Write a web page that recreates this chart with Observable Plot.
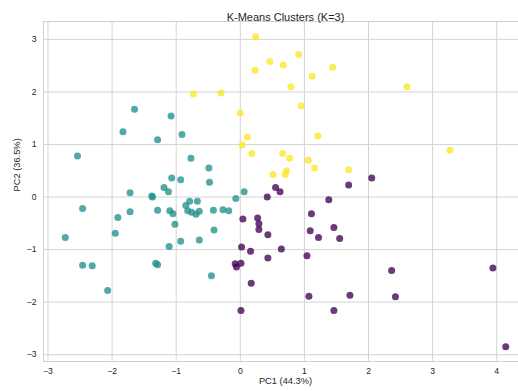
<!DOCTYPE html>
<html>
<head>
<meta charset="utf-8">
<script src="https://cdn.jsdelivr.net/npm/d3@7"></script>
<script src="https://cdn.jsdelivr.net/npm/@observablehq/plot@0.6"></script>
<style>
  html, body { margin: 0; padding: 0; background: #fff; overflow: hidden; width: 518px; height: 391px; }
  #chart { width: 528px; }
  #chart svg { display: block; max-width: none !important; }
</style>
</head>
<body>
<div id="chart"></div>
<script>
const title = "K-Means Clusters (K=3)";
const xLabel = "PC1 (44.3%)";
const yLabel = "PC2 (36.5%)";
const xTicks = [-3, -2, -1, 0, 1, 2, 3, 4];
const yTicks = [-3, -2, -1, 0, 1, 2, 3];
const clusterColors = ["#440154", "#21918c", "#fde725"];

// Cluster 0 (purple)
const pc1Cluster0 = [0.55, 0.62, 0.42, 1.38, 1.11, 0.04, 0.27, 0.29, 0.29, 1.09, 1.46, 1.22, 1.55, 0.43, 0.02, 0.16, 0.64, 0.43, 1.04, 0.01, -0.08, -0.06, 0.17, 1.07, 0.01, 1.46, 1.69, 2.05, 1.71, 2.36, 3.94, 2.42, 4.14];
const pc2Cluster0 = [0.18, 0.10, 0.00, -0.05, -0.32, -0.42, -0.40, -0.51, -0.62, -0.64, -0.58, -0.77, -0.79, -0.72, -0.95, -1.03, -0.99, -1.16, -1.12, -1.26, -1.27, -1.33, -1.64, -1.89, -2.16, -2.16, 0.23, 0.36, -1.87, -1.40, -1.35, -1.90, -2.85];

// Cluster 1 (teal)
const pc1Cluster1 = [-1.65, -1.08, -1.83, -0.91, -1.29, -2.54, -0.77, -0.49, -0.48, -1.07, -0.93, -1.19, -1.12, -1.72, -1.38, -1.37, -2.46, -1.29, -1.72, -1.10, -1.05, -1.91, -1.02, -1.95, -2.73, -1.11, -0.93, -0.64, -2.46, -2.31, -1.32, -1.29, 0.06, -0.07, -0.85, -0.79, -0.67, -0.82, -0.76, -0.69, -0.64, -0.42, -0.27, -0.18, -0.41, -0.45, -2.07];
const pc2Cluster1 = [1.67, 1.54, 1.24, 1.19, 1.09, 0.78, 0.74, 0.55, 0.28, 0.36, 0.33, 0.18, 0.10, 0.08, 0.02, 0.00, -0.22, -0.25, -0.28, -0.26, -0.32, -0.39, -0.52, -0.69, -0.77, -0.94, -0.84, -0.82, -1.30, -1.31, -1.26, -1.29, 0.10, -0.03, -0.16, -0.08, -0.08, -0.26, -0.29, -0.33, -0.27, -0.25, -0.24, -0.26, -0.63, -1.50, -1.78];

// Cluster 2 (yellow)
const pc1Cluster2 = [0.24, 0.91, 0.46, 0.67, 0.23, 1.44, 1.12, 0.79, 0.00, 0.95, 0.11, 0.03, 1.21, 0.18, 0.66, 0.77, 1.06, 1.16, 0.72, 0.70, 0.51, 1.69, -0.73, -0.30, 2.60, 3.27];
const pc2Cluster2 = [3.05, 2.71, 2.58, 2.51, 2.41, 2.47, 2.30, 2.10, 1.60, 1.73, 1.14, 0.99, 1.16, 0.83, 0.83, 0.74, 0.70, 0.55, 0.50, 0.43, 0.43, 0.52, 1.96, 1.98, 2.10, 0.89];

const points = [];
[[pc1Cluster0, pc2Cluster0], [pc1Cluster1, pc2Cluster1], [pc1Cluster2, pc2Cluster2]].forEach(([xs, ys], k) => {
  xs.forEach((x, i) => points.push({pc1: x, pc2: ys[i], cluster: k}));
});

const font = "'Liberation Sans', Arial, Helvetica, sans-serif";
const textColor = "#262626";
const intFormat = d3.format("d");

const chart = Plot.plot({
  width: 528,
  height: 391,
  marginLeft: 43,
  marginRight: 1,
  marginTop: 21,
  marginBottom: 30,
  style: {fontFamily: font, background: "#fff", overflow: "visible", maxWidth: "none"},
  x: {domain: [-3.07, 4.48], ticks: xTicks},
  y: {domain: [-3.13, 3.34], ticks: yTicks},
  marks: [
    Plot.gridX(xTicks, {stroke: "#d4d4d4", strokeOpacity: 1, strokeWidth: 1}),
    Plot.gridY(yTicks, {stroke: "#d4d4d4", strokeOpacity: 1, strokeWidth: 1}),
    Plot.frame({stroke: "#cfcfcf", strokeWidth: 1}),
    Plot.axisX(xTicks, {tickSize: 0, tickPadding: 6, label: null, fontSize: 8.6, fill: textColor, tickFormat: intFormat}),
    Plot.axisY(yTicks, {tickSize: 0, tickPadding: 7, label: null, fontSize: 8.6, fill: textColor, tickFormat: intFormat}),
    Plot.dot(points, {x: "pc1", y: "pc2", fill: d => clusterColors[d.cluster], fillOpacity: 0.78, r: 3.5, stroke: "none"}),
    Plot.text([title], {frameAnchor: "top", dy: -8, fontSize: 11, fill: textColor, fontFamily: font}),
    Plot.text([xLabel], {frameAnchor: "bottom", dy: 22.5, fontSize: 9.3, fill: textColor, fontFamily: font}),
    Plot.text([yLabel], {frameAnchor: "left", dx: -26, rotate: -90, fontSize: 9.3, fill: textColor, fontFamily: font})
  ]
});
document.getElementById("chart").appendChild(chart);
</script>
</body>
</html>
